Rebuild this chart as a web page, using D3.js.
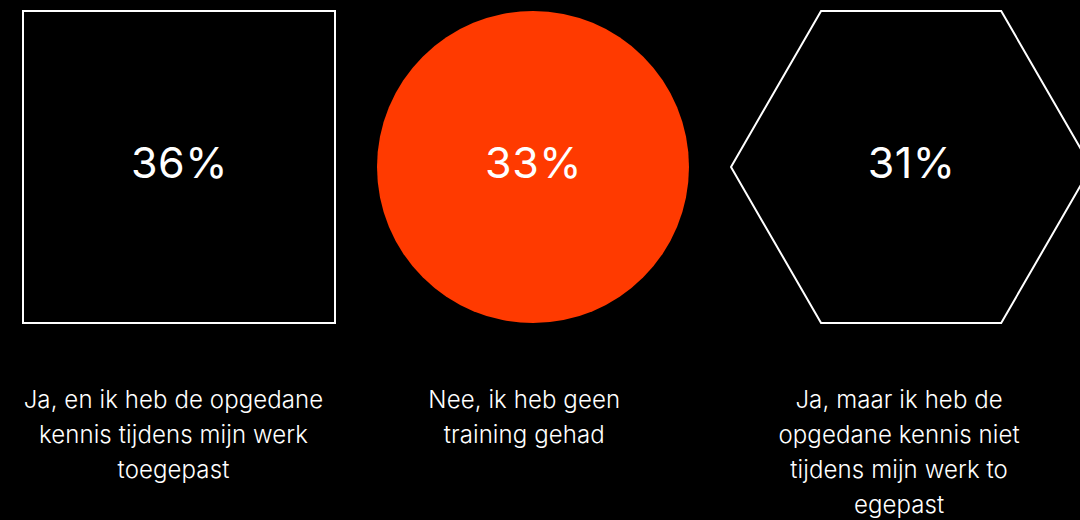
<!DOCTYPE html>
<html>
<head>
<meta charset="utf-8">
<script src="https://cdn.jsdelivr.net/npm/d3@7"></script>
<style>
  html, body { margin: 0; padding: 0; background: #000; }
  svg { display: block; }
</style>
</head>
<body>
<div id="chart"></div>
<script>
// data
var values = [36, 33, 31];
var shapes = ["square", "circle", "hexagon"];
var labels = [
  ["Ja, en ik heb de opgedane", "kennis tijdens mijn werk", "toegepast"],
  ["Nee, ik heb geen", "training gehad"],
  ["Ja, maar ik heb de", "opgedane kennis niet", "tijdens mijn werk to", "egepast"]
];
var fills = ["none", "#ff3a00", "none"];

var width = 1080, height = 520;
var shapeH = 312, gap = 42, marginLeft = 23, marginTop = 11;

var svg = d3.select("#chart").append("svg")
  .attr("width", width)
  .attr("height", height)
  .style("background", "#000");

// shape widths -> flow layout
function shapeWidth(s) {
  if (s == "hexagon") return 2 * shapeH / Math.sqrt(3);
  return shapeH;
}
var xs = [];
var cur = marginLeft;
shapes.forEach(function(s) {
  var w = shapeWidth(s);
  xs.push({x0: cur, w: w, cx: cur + w / 2});
  cur += w + gap;
});
var cy = marginTop + shapeH / 2;

var g = svg.selectAll(".item")
  .data(values)
  .enter().append("g")
  .attr("class", "item")
  .attr("transform", function(d, i) { return "translate(" + xs[i].cx + "," + cy + ")"; });

g.each(function(d, i) {
  var el = d3.select(this);
  var s = shapes[i];
  if (s == "square") {
    el.append("rect")
      .attr("x", -shapeH / 2).attr("y", -shapeH / 2)
      .attr("width", shapeH).attr("height", shapeH)
      .attr("fill", fills[i]).attr("stroke", "#fff").attr("stroke-width", 2);
  } else if (s == "circle") {
    el.append("circle")
      .attr("r", shapeH / 2)
      .attr("fill", fills[i]);
  } else {
    var R = xs[i].w / 2;
    var pts = d3.range(6).map(function(k) {
      var a = Math.PI / 3 * k;
      return [R * Math.cos(a), R * Math.sin(a)];
    });
    el.append("path")
      .attr("d", d3.line()(pts) + "Z")
      .attr("fill", fills[i]).attr("stroke", "#fff").attr("stroke-width", 2);
  }

  el.append("text")
    .attr("text-anchor", "middle")
    .attr("x", 0.5)
    .attr("y", 11)
    .attr("fill", "#fff")
    .style("font-family", "Inter, 'Liberation Sans', Arial, sans-serif")
    .style("font-size", "43px")
    .style("font-weight", 400)
    .style("letter-spacing", "0.5px")
    .text(d + "%");
});

// labels under the shapes
svg.selectAll(".label")
  .data(labels)
  .enter().append("text")
  .attr("class", "label")
  .attr("text-anchor", "middle")
  .attr("fill", "#fff")
  .style("font-family", "Inter, 'Noto Sans', sans-serif")
  .style("font-weight", 300)
  .style("font-size", "24px")
  .style("letter-spacing", "0.1px")
  .attr("transform", function(d, i) {
    return "translate(" + (xs[i].cx - 5.5 - 3.25 * i) + ",408)";
  })
  .selectAll("tspan")
  .data(function(d) { return d; })
  .enter().append("tspan")
  .attr("x", 0)
  .attr("y", function(d, j) { return j * 35; })
  .text(function(d) { return d; });
</script>
</body>
</html>
